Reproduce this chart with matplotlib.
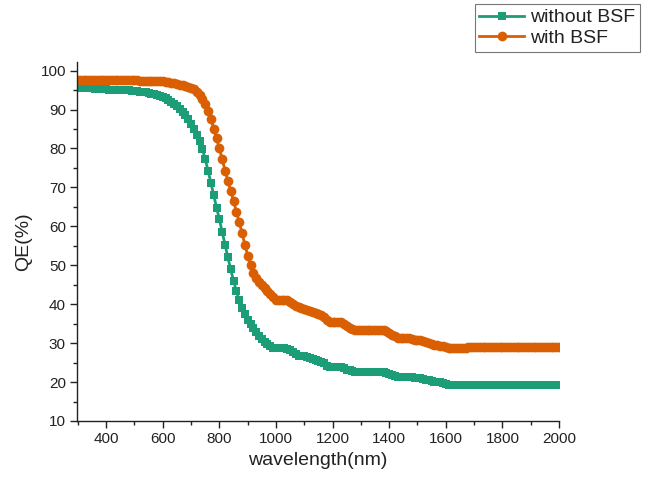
import numpy as np
import matplotlib
matplotlib.use("Agg")
import matplotlib.pyplot as plt
from matplotlib.ticker import MultipleLocator

plt.rcParams['font.family'] = ['Liberation Sans', 'DejaVu Sans']

wavelength = np.arange(300, 2001, 10)

qe_without_bsf = [
    95.6, 95.6, 95.5, 95.5, 95.4, 95.4, 95.3, 95.3, 95.3, 95.2,
    95.2, 95.1, 95.1, 95.0, 95.0, 95.0, 94.9, 94.9, 94.9, 94.8,
    94.8, 94.7, 94.6, 94.5, 94.4, 94.3, 94.1, 93.9, 93.7, 93.5,
    93.2, 92.9, 92.5, 92.0, 91.5, 90.9, 90.2, 89.4, 88.5, 87.5,
    86.3, 85.0, 83.5, 81.8, 79.8, 77.3, 74.3, 71.2, 68.0, 64.8,
    61.8, 58.6, 55.3, 52.0, 49.0, 46.0, 43.4, 41.0, 39.0, 37.4,
    36.0, 34.8, 33.8, 32.8, 31.8, 31.0, 30.3, 29.7, 29.2, 28.8,
    28.7, 28.7, 28.7, 28.7, 28.6, 28.2, 27.6, 27.1, 26.8, 26.7,
    26.6, 26.5, 26.2, 25.9, 25.6, 25.4, 25.2, 24.8, 24.2, 23.9,
    23.9, 23.9, 23.9, 23.9, 23.5, 23.2, 23.0, 22.8, 22.7, 22.7,
    22.7, 22.7, 22.7, 22.7, 22.7, 22.7, 22.7, 22.7, 22.7, 22.4,
    22.0, 21.7, 21.5, 21.4, 21.4, 21.4, 21.4, 21.4, 21.2, 21.1,
    21.0, 21.0, 20.8, 20.6, 20.4, 20.2, 20.1, 20.0, 19.9, 19.7,
    19.5, 19.3, 19.2, 19.3, 19.3, 19.3, 19.3, 19.3, 19.3, 19.3,
    19.3, 19.3, 19.3, 19.3, 19.3, 19.3, 19.3, 19.3, 19.3, 19.3,
    19.3, 19.3, 19.3, 19.3, 19.3, 19.3, 19.3, 19.3, 19.3, 19.3,
    19.3, 19.3, 19.3, 19.3, 19.3, 19.3, 19.3, 19.3, 19.3, 19.3,
    19.3,
]

qe_with_bsf = [
    97.6, 97.6, 97.6, 97.6, 97.6, 97.6, 97.6, 97.6, 97.6, 97.6,
    97.6, 97.6, 97.6, 97.5, 97.5, 97.5, 97.5, 97.5, 97.5, 97.5,
    97.5, 97.5, 97.4, 97.4, 97.4, 97.4, 97.4, 97.3, 97.3, 97.3,
    97.2, 97.1, 97.0, 96.9, 96.7, 96.6, 96.4, 96.3, 96.1, 95.9,
    95.6, 95.2, 94.6, 93.8, 92.8, 91.5, 89.7, 87.5, 85.1, 82.6,
    80.0, 77.2, 74.3, 71.6, 69.1, 66.5, 63.8, 61.1, 58.2, 55.3,
    52.5, 50.0, 48.0, 46.6, 45.6, 45.0, 44.2, 43.3, 42.5, 41.8,
    41.2, 41.1, 41.1, 41.1, 41.0, 40.5, 40.0, 39.5, 39.2, 39.0,
    38.7, 38.5, 38.2, 38.0, 37.7, 37.4, 37.2, 36.8, 36.0, 35.5,
    35.5, 35.5, 35.5, 35.5, 35.0, 34.5, 34.0, 33.6, 33.4, 33.4,
    33.4, 33.4, 33.4, 33.4, 33.4, 33.4, 33.4, 33.4, 33.4, 33.0,
    32.5, 32.0, 31.7, 31.4, 31.2, 31.2, 31.2, 31.2, 31.0, 30.9,
    30.8, 30.7, 30.5, 30.3, 30.0, 29.8, 29.6, 29.5, 29.3, 29.2,
    29.0, 28.8, 28.7, 28.8, 28.8, 28.8, 28.8, 28.8, 28.9, 28.9,
    28.9, 28.9, 28.9, 28.9, 28.9, 28.9, 28.9, 28.9, 28.9, 28.9,
    28.9, 28.9, 28.9, 28.9, 28.9, 28.9, 28.9, 28.9, 28.9, 28.9,
    28.9, 28.9, 28.9, 28.9, 28.9, 28.9, 28.9, 28.9, 28.9, 28.9,
    28.9,
]

labels = ["without BSF", "with BSF"]
green = "#1b9e77"
orange = "#d95f02"
text_color = "#222222"

fig = plt.figure(figsize=(6.51, 4.84), dpi=100)
ax = fig.add_axes([0.1183, 0.1302, 0.8587 - 0.1183, 0.8719 - 0.1302])

ax.plot(wavelength, qe_without_bsf, color=green, lw=2, marker='s',
        markersize=6, markeredgewidth=0, label=labels[0])
ax.plot(wavelength, qe_with_bsf, color=orange, lw=2, marker='o',
        markersize=7, markeredgewidth=0, label=labels[1])

ax.set_xlim(297, 2000)
ax.set_ylim(10, 102.2)
ax.xaxis.set_major_locator(MultipleLocator(200))
ax.xaxis.set_minor_locator(MultipleLocator(100))
ax.yaxis.set_major_locator(MultipleLocator(10))
ax.yaxis.set_minor_locator(MultipleLocator(5))
ax.set_xticks([400, 600, 800, 1000, 1200, 1400, 1600, 1800, 2000])

for s in ['top', 'right']:
    ax.spines[s].set_visible(False)
for s in ['left', 'bottom']:
    ax.spines[s].set_linewidth(1.0)
    ax.spines[s].set_color(text_color)

ax.tick_params(which='major', direction='out', length=5, width=1, labelsize=11,
               pad=3, colors=text_color)
ax.tick_params(which='minor', direction='out', length=3, width=1, colors=text_color)

ax.set_xlabel("wavelength(nm)", fontsize=14, labelpad=4, color=text_color)
ax.set_ylabel("QE(%)", fontsize=14, labelpad=6, color=text_color)

leg = fig.legend(loc='upper right', bbox_to_anchor=(0.983, 0.992), fontsize=14,
                 frameon=True, fancybox=False, edgecolor='#555555',
                 handlelength=2.3, handletextpad=0.3, labelspacing=0.15,
                 borderpad=0.25, borderaxespad=0)
leg.get_frame().set_linewidth(0.8)
for t in leg.get_texts():
    t.set_color(text_color)

fig.savefig("out.png", dpi=100)
